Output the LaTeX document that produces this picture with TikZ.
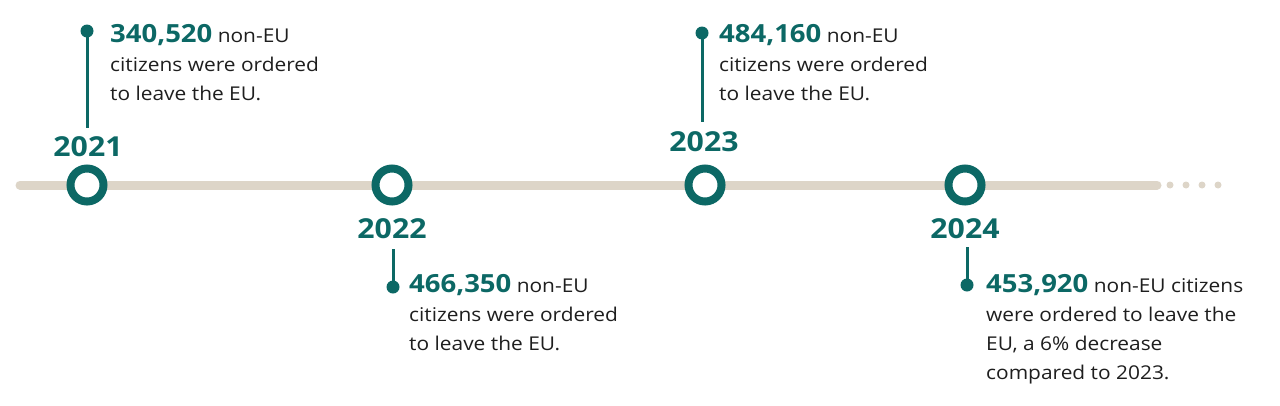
\documentclass[tikz,border=0pt]{standalone}
\usepackage{fontspec}
\setmainfont[FakeStretch=1.1]{Open Sans}
\definecolor{eteal}{RGB}{12,104,101}
\definecolor{ebeige}{RGB}{221,213,200}
\definecolor{etext}{RGB}{30,30,30}
\tikzset{
  ring/.style={circle, draw=eteal, line width=8pt, minimum size=33pt, inner sep=0pt, fill=white},
  yearlbl/.style={text=eteal, font=\fontsize{27.5}{30}\selectfont\bfseries, inner sep=0pt},
  pin/.style={circle, fill=eteal, minimum size=13pt, inner sep=0pt},
  stem/.style={draw=eteal, line width=3pt},
  info/.style={align=left, anchor=north west, inner sep=0pt, text=etext, font=\fontsize{19}{29}\selectfont},
  tdot/.style={circle, fill=ebeige, minimum size=7pt, inner sep=0pt},
}
\newcommand{\bignum}[1]{{\fontsize{25}{29}\selectfont\bfseries\color{eteal}#1}}
\begin{document}
\begin{tikzpicture}[x=1pt,y=-1pt]
\useasboundingbox (0,0) rectangle (1280,405);
% timeline
\coordinate (tstart) at (20,185);
\coordinate (tend) at (1157,185);
\draw[ebeige, line width=9pt, line cap=round] (tstart) -- (tend);
\node[tdot] (e1) at (1170,185) {};
\node[tdot] (e2) at (1186,185) {};
\node[tdot] (e3) at (1202,185) {};
\node[tdot] (e4) at (1218,185) {};
% rings
\node[ring] (r1) at (87,185) {};
\node[ring] (r2) at (392,185) {};
\node[ring] (r3) at (705,185) {};
\node[ring] (r4) at (965,185) {};
% years
\node[yearlbl] (y1) at (88,147) {2021};
\node[yearlbl] (y2) at (392,229) {2022};
\node[yearlbl] (y3) at (704,142) {2023};
\node[yearlbl] (y4) at (965,229) {2024};
% stems
\node[pin] (p1) at (87,31) {};
\coordinate (s1) at (87,128);
\draw[stem] (p1.center) -- (s1);
\node[pin] (p2) at (393,287) {};
\coordinate (s2) at (393,249);
\draw[stem] (s2) -- (p2.center);
\node[pin] (p3) at (702,33) {};
\coordinate (s3) at (702,122);
\draw[stem] (p3.center) -- (s3);
\node[pin] (p4) at (967,285) {};
\coordinate (s4) at (967,247);
\draw[stem] (s4) -- (p4.center);
% texts
\node[info] (t1) at (110,24) {\bignum{340,520} non-EU\\citizens were ordered\\to leave the EU.};
\node[info] (t2) at (409,274) {\bignum{466,350} non-EU\\citizens were ordered\\to leave the EU.};
\node[info] (t3) at (719,24) {\bignum{484,160} non-EU\\citizens were ordered\\to leave the EU.};
\node[info] (t4) at (986,274) {\bignum{453,920} non-EU citizens\\were ordered to leave the\\EU, a 6\% decrease\\compared to 2023.};
\end{tikzpicture}
\end{document}
